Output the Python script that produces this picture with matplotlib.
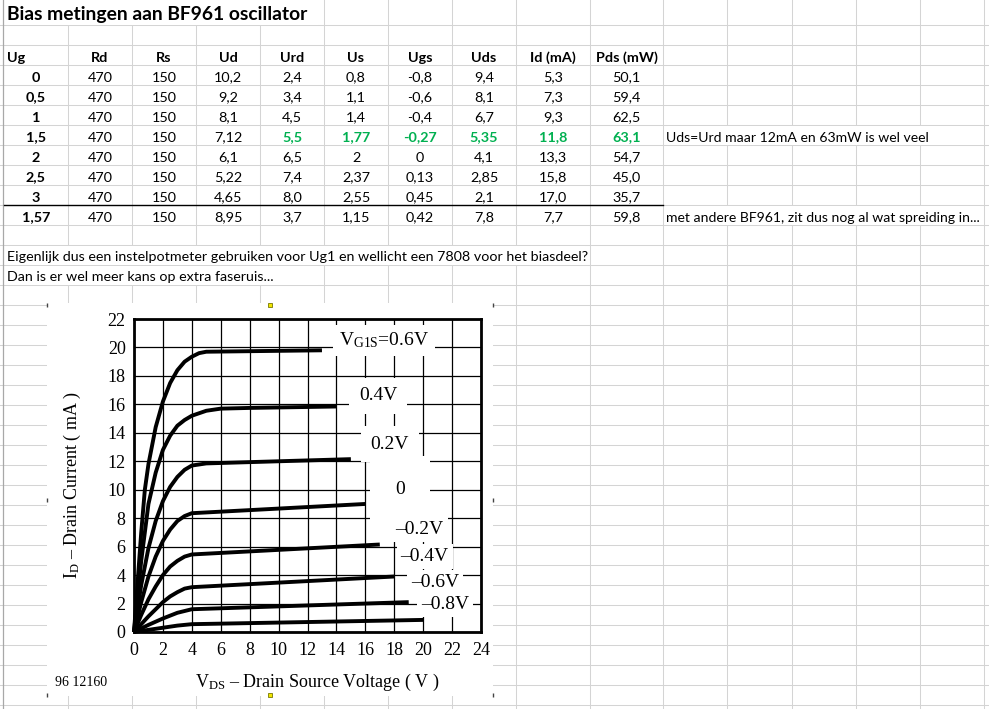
import matplotlib.pyplot as plt
from matplotlib.patches import Rectangle

plt.rcParams['font.family'] = ['Lato', 'DejaVu Sans']
plt.rcParams['mathtext.fontset'] = 'custom'
plt.rcParams['mathtext.rm'] = 'Liberation Serif'
plt.rcParams['mathtext.it'] = 'Liberation Serif:italic'

# ---- tabel uit de spreadsheet ----
title = 'Bias metingen aan BF961 oscillator'
headers = ['Ug', 'Rd', 'Rs', 'Ud', 'Urd', 'Us', 'Ugs', 'Uds', 'Id (mA)', 'Pds (mW)']
ug = ['0', '0,5', '1', '1,5', '2', '2,5', '3', '1,57']
rd = ['470', '470', '470', '470', '470', '470', '470', '470']
rs = ['150', '150', '150', '150', '150', '150', '150', '150']
ud = ['10,2', '9,2', '8,1', '7,12', '6,1', '5,22', '4,65', '8,95']
urd = ['2,4', '3,4', '4,5', '5,5', '6,5', '7,4', '8,0', '3,7']
us = ['0,8', '1,1', '1,4', '1,77', '2', '2,37', '2,55', '1,15']
ugs = ['-0,8', '-0,6', '-0,4', '-0,27', '0', '0,13', '0,45', '0,42']
uds = ['9,4', '8,1', '6,7', '5,35', '4,1', '2,85', '2,1', '7,8']
id_ma = ['5,3', '7,3', '9,3', '11,8', '13,3', '15,8', '17,0', '7,7']
pds = ['50,1', '59,4', '62,5', '63,1', '54,7', '45,0', '35,7', '59,8']
comments = ['', '', '', 'Uds=Urd maar 12mA en 63mW is wel veel', '', '', '',
            'met andere BF961, zit dus nog al wat spreiding in...']
notes = ['Eigenlijk dus een instelpotmeter gebruiken voor Ug1 en wellicht een 7808 voor het biasdeel?',
         'Dan is er wel meer kans op extra faseruis...']

# ---- datasheet grafiek: ID tegen VDS per VG1S ----
curve_labels = ['V$_{\\rm G1S}$=0.6V', '0.4V', '0.2V', '0', '\u20130.2V', '\u20130.4V', '\u20130.6V', '\u20130.8V']
vds_p06 = [0, 0.25, 0.5, 0.75, 1, 1.5, 2, 2.5, 3, 3.5, 4, 4.5, 5, 13]
id_p06 = [0, 3.5, 7, 10, 11.8, 14.4, 16.2, 17.5, 18.4, 19.0, 19.35, 19.6, 19.7, 19.8]
vds_p04 = [0, 0.25, 0.5, 1, 1.5, 2, 2.5, 3, 3.5, 4, 5, 6, 8, 14]
id_p04 = [0, 2.5, 5, 9, 11.2, 12.8, 13.8, 14.5, 14.9, 15.2, 15.55, 15.7, 15.75, 15.85]
vds_p02 = [0, 0.5, 1, 1.5, 2, 2.5, 3, 3.5, 4, 5, 15]
id_p02 = [0, 3.3, 5.9, 7.8, 9.2, 10.2, 10.9, 11.4, 11.7, 11.85, 12.15]
vds_0 = [0, 0.5, 1, 1.5, 2, 2.5, 3, 3.5, 4, 16]
id_0 = [0, 2.1, 3.9, 5.3, 6.4, 7.2, 7.8, 8.15, 8.35, 9.0]
vds_m02 = [0, 0.5, 1, 1.5, 2, 2.5, 3, 3.5, 4, 17]
id_m02 = [0, 1.2, 2.3, 3.2, 4.0, 4.6, 5.0, 5.3, 5.45, 6.15]
vds_m04 = [0, 1, 2, 2.5, 3, 3.5, 4, 18]
id_m04 = [0, 1.1, 2.1, 2.5, 2.8, 3.05, 3.15, 3.9]
vds_m06 = [0, 1, 2, 3, 4, 19]
id_m06 = [0, 0.5, 0.95, 1.35, 1.6, 2.1]
vds_m08 = [0, 1, 2, 3, 4, 20]
id_m08 = [0, 0.15, 0.3, 0.45, 0.55, 0.85]

W, H = 989, 709
fig = plt.figure(figsize=(W / 100, H / 100), dpi=100)
ax = fig.add_axes([0, 0, 1, 1])
ax.set_xlim(0, W)
ax.set_ylim(H, 0)
ax.axis('off')

# rasterlijnen van Excel
grid_c = '#d4d4d4'
col_x = [68, 132, 196, 260, 324, 388, 452, 516, 590, 663, 727, 792, 856, 920, 984]
for x in col_x:
    ax.plot([x, x], [0, H], color=grid_c, lw=0.75, zorder=1)
for y in [25] + list(range(45, H, 20)):
    ax.plot([0, W], [y, y], color=grid_c, lw=0.75, zorder=1)
ax.plot([2.5, 2.5], [0, H], color='#a8a8a8', lw=0.9, zorder=1)

# tekst die over de cellen loopt verbergt de rasterlijnen
for x0, x1, y0, y1 in [(10, 318, 0, 24.5), (10, 585, 245.5, 264.5), (10, 318, 265.5, 284.5),
                       (668, 980, 125.5, 144.5), (668, 980, 205.5, 224.5)]:
    ax.add_patch(Rectangle((x0, y0), x1 - x0, y1 - y0, color='white', lw=0, zorder=2))

ax.text(7, 20, title, fontsize=13.85, fontweight='bold', va='baseline', zorder=3)

col_edges = [4, 68, 132, 196, 260, 324, 388, 452, 516, 590, 663]
centers = [(a + b) / 2 for a, b in zip(col_edges[:-1], col_edges[1:])]
fs = 10.4
green = '#00b050'

for j, h in enumerate(headers):
    if j == 0:
        ax.text(7, 61.5, h, fontsize=fs, fontweight='bold', va='baseline', zorder=3)
    else:
        ax.text(centers[j], 61.5, h, fontsize=fs, fontweight='bold', ha='center', va='baseline', zorder=3)

columns = [ug, rd, rs, ud, urd, us, ugs, uds, id_ma, pds]
for i in range(len(ug)):
    yb = 65 + 20 * i + 16.5
    for j, col in enumerate(columns):
        c = green if (i == 3 and j >= 4) else 'black'
        wt = 'bold' if (j == 0 or (i == 3 and j >= 4)) else 'normal'
        ax.text(centers[j], yb, col[i], fontsize=fs, fontweight=wt, color=c,
                ha='center', va='baseline', zorder=3)
    if comments[i]:
        ax.text(666, yb, comments[i], fontsize=10.1, va='baseline', zorder=3)

ax.plot([4, 663], [205, 205], color='black', lw=1.0, zorder=3)

for k, line in enumerate(notes):
    ax.text(7, 261 + 20 * k, line, fontsize=10.3, va='baseline', zorder=3)

# ingevoegde afbeelding van de datasheet
ax.add_patch(Rectangle((47, 303), 446, 393, color='white', lw=0, zorder=4))
for hx, hy in [(47, 305), (493, 305), (47, 500), (493, 500), (47, 695), (493, 695)]:
    ax.plot(hx, hy, marker='|', ms=3, color='#444444', zorder=5)
for hx, hy in [(270, 305), (270, 695)]:
    ax.plot(hx, hy, marker='s', ms=3, mfc='#f2e600', mec='#777700', mew=0.6, zorder=5)

serif = ['Liberation Serif', 'DejaVu Serif']
ax.text(317, 682, 'V$_{\\rm DS}$ \u2013 Drain Source Voltage ( V )', family=serif, fontsize=13,
        ha='center', va='center', zorder=5)
ax.text(72, 485, 'I$_{\\rm D}$ \u2013 Drain Current ( mA )', family=serif, fontsize=13,
        rotation=90, ha='center', va='center', zorder=5)
ax.text(55, 683, '96 12160', family=serif, fontsize=10, va='center', zorder=5)

cax = fig.add_axes([134 / W, (H - 632) / H, (481 - 134) / W, (632 - 319) / H])
cax.set_facecolor('white')
cax.set_xlim(0, 24)
cax.set_ylim(0, 22)
cax.set_xticks(range(0, 25, 2))
cax.set_yticks(range(0, 23, 2))
cax.grid(True, color='black', lw=0.9)
cax.set_axisbelow(True)
for s in cax.spines.values():
    s.set_linewidth(2)
cax.tick_params(length=0, labelsize=13)
cax.tick_params(axis='x', pad=7)
cax.tick_params(axis='y', pad=6)
for lbl in cax.get_xticklabels() + cax.get_yticklabels():
    lbl.set_family(serif)

curves = [(vds_p06, id_p06), (vds_p04, id_p04), (vds_p02, id_p02), (vds_0, id_0),
          (vds_m02, id_m02), (vds_m04, id_m04), (vds_m06, id_m06), (vds_m08, id_m08)]
for vx, iy in curves:
    cax.plot(vx, iy, color='black', lw=2.8, solid_capstyle='butt', solid_joinstyle='round', clip_on=False)

label_pos = [(17.3, 20.5), (16.9, 16.6), (17.7, 13.2), (18.4, 10.0),
             (19.75, 7.2), (20.1, 5.3), (20.8, 3.5), (21.5, 1.95)]
label_pad = [0.3, 0.5, 0.5, 1.3, 0.2, 0.2, 0.2, 0.2]
for txt, (lx, ly), p in zip(curve_labels, label_pos, label_pad):
    cax.text(lx, ly, txt, family=serif, fontsize=14, ha='center', va='center',
             bbox=dict(boxstyle='square,pad=%s' % p, fc='white', ec='none'), zorder=4)

fig.savefig('out.png', dpi=100)
